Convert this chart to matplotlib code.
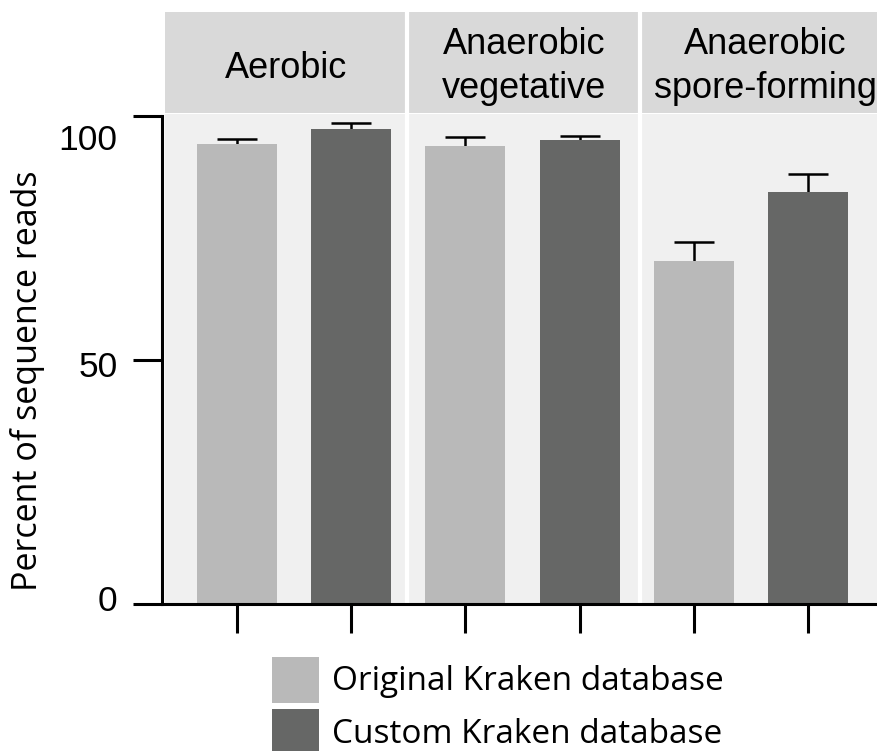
import matplotlib
matplotlib.use("Agg")
import matplotlib.pyplot as plt
import matplotlib.transforms as mtransforms
from matplotlib.patches import Patch

# values
groups = ['Aerobic', 'Anaerobic\nvegetative', 'Anaerobic\nspore-forming']
series = ['Original Kraken database', 'Custom Kraken database']
original_vals = [94.3, 93.9, 70.3]
original_err = [1.0, 1.8, 3.9]
custom_vals = [97.3, 95.1, 84.4]
custom_err = [1.3, 0.8, 3.7]

light = '#b9b9b9'
dark = '#666766'
panel_bg = '#f0f0f0'
strip_bg = '#d9d9d9'

plt.rcParams['font.family'] = ['Liberation Sans', 'DejaVu Sans']

W, H = 877, 751
fig = plt.figure(figsize=(W / 100, H / 100), dpi=100)

x_left, x_right = -0.655, 5.6
ax = fig.add_axes([162 / W, (H - 604) / H, (W - 162) / W, (604 - 114) / H])
hdr = fig.add_axes([162 / W, (H - 113) / H, (W - 162) / W, (113 - 12) / H])

# panel backgrounds and separators
bounds = [x_left, 1.49, 3.53, x_right]
label_shift = [0, 0, 0.06]
for i in range(3):
    lo = bounds[i] + (0.03 if i == 0 else 0)
    ax.axvspan(lo, bounds[i + 1], color=panel_bg, lw=0, zorder=0)
    hdr.axvspan(lo, bounds[i + 1], color=strip_bg, lw=0)
    hdr.text((lo + bounds[i + 1]) / 2 + label_shift[i], 0.46 if i else 0.44, groups[i],
             ha='center', va='center', fontsize=26, linespacing=1.3)
for b in bounds[1:3]:
    ax.axvline(b, color='white', lw=3, zorder=1)
    hdr.axvline(b, color='white', lw=3)

pos_orig = [0, 2, 4]
pos_cust = [1, 3, 5]
# error bars sit behind the bars so only the upper half shows
ekw = dict(fmt='none', ecolor='black', elinewidth=1.8, capsize=14.5, capthick=1.8, zorder=1.5)
ax.errorbar(pos_orig, original_vals, yerr=original_err, **ekw)
ax.errorbar(pos_cust, custom_vals, yerr=custom_err, **ekw)
ax.bar(pos_orig, original_vals, width=0.7, color=light, zorder=2)
ax.bar(pos_cust, custom_vals, width=0.7, color=dark, zorder=2)

ax.set_xlim(x_left, x_right)
ax.set_ylim(0, 100.4)
ax.set_xticks(range(6))
ax.set_xticklabels([])
ax.set_yticks([0, 50, 100])
ax.tick_params(axis='both', direction='out', length=21, width=2.2, labelsize=25.5)
ax.tick_params(axis='y', pad=11)
ax.set_facecolor('white')
for s in ['top', 'right']:
    ax.spines[s].set_visible(False)
for s in ['left', 'bottom']:
    ax.spines[s].set_linewidth(2.2)
ax.spines['left'].set_bounds(0, 100)

# the reference has its y tick labels nudged off the ticks
for lab, dy in zip(ax.get_yticklabels(), [6, -4, -21]):
    lab.set_transform(lab.get_transform() + mtransforms.ScaledTranslation(0, dy / 100, fig.dpi_scale_trans))

ax.set_ylabel('Percent of sequence reads', fontsize=24.5, family='Open Sans')
ax.yaxis.set_label_coords(-0.163, 0.455)

hdr.set_xlim(x_left, x_right)
hdr.set_ylim(0, 1)
hdr.axis('off')

handles = [Patch(facecolor=light), Patch(facecolor=dark)]
fig.legend(handles, series, loc='upper left', bbox_to_anchor=(255 / W, 1 - 640 / H),
           frameon=False, prop={'family': 'Open Sans', 'size': 24},
           handlelength=1.42, handleheight=1.75, labelspacing=0.2, handletextpad=0.4,
           borderpad=0)

fig.savefig('out.png', dpi=100)
